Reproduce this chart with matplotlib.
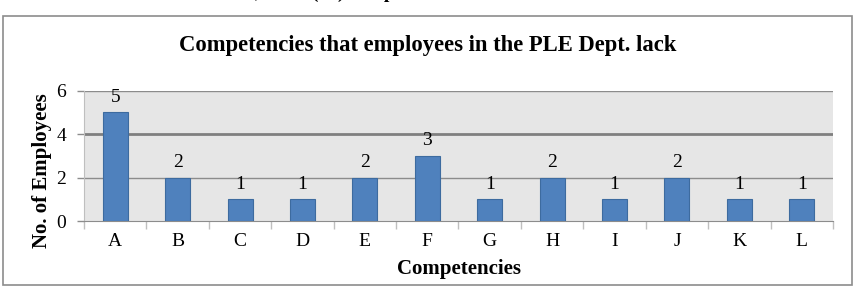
import matplotlib.pyplot as plt
from matplotlib.patches import Rectangle

# data
competencies = ["A", "B", "C", "D", "E", "F", "G", "H", "I", "J", "K", "L"]
employees = [5, 2, 1, 1, 2, 3, 1, 2, 1, 2, 1, 1]
yticks = [0, 2, 4, 6]

W, H = 856, 288
fig = plt.figure(figsize=(W / 100, H / 100), dpi=100)
plt.rcParams["font.family"] = ["Liberation Serif", "DejaVu Serif"]

# caption text cut off at the very top (only descenders show in the reference)
fig.text(255 / W, 1 + 2 / H, ", these (16) comp", fontsize=14, fontweight="bold",
         va="baseline", ha="left")

# chart area border
fig.add_artist(Rectangle((2.5 / W, 1 - 285 / H), 849.5 / W, 269 / H, transform=fig.transFigure,
                         fill=False, edgecolor="#8c8c8c", linewidth=1.2))

ax = fig.add_axes([84 / W, 1 - 221 / H, (833 - 84) / W, (221 - 90.7) / H])
ax.set_facecolor("#e6e6e6")

x = range(len(competencies))
ax.bar(x, employees, width=0.4, color="#4f81bd", edgecolor="#3d6b9f", linewidth=0.8, zorder=3)
for xi, v in zip(x, employees):
    ax.text(xi, v + 0.3, str(v), ha="center", va="bottom", fontsize=14)

ax.set_xlim(-0.5, len(competencies) - 0.5)
ax.set_ylim(0, 6)
ax.set_yticks(yticks)
ax.set_yticklabels([str(t) for t in yticks], fontsize=14)
ax.set_xticks(list(x))
ax.set_xticklabels(competencies, fontsize=14)
ax.set_xticks([i + 0.5 for i in range(-1, len(competencies))], minor=True)
ax.tick_params(axis="x", which="major", length=0, pad=9)
ax.tick_params(axis="x", which="minor", length=6, color="#bfbfbf", width=1)
ax.tick_params(axis="y", length=5, color="#8c8c8c", width=1, pad=8)

for t in [2, 6]:
    ax.axhline(t, color="#8c8c8c", linewidth=1, zorder=1)
ax.axhline(4, color="#7f7f7f", linewidth=2, zorder=1)

for side in ["top", "right"]:
    ax.spines[side].set_visible(False)
ax.spines["bottom"].set_color("#8c8c8c")
ax.spines["left"].set_color("#bfbfbf")

fig.text(0.5, 1 - 45 / H, "Competencies that employees in the PLE Dept. lack", fontsize=16.3,
         fontweight="bold", ha="center", va="center")
ax.set_ylabel("No. of Employees", fontsize=15, fontweight="bold")
ax.yaxis.set_label_coords(-32 / (833 - 84), 0.384)
ax.set_xlabel("Competencies", fontsize=15, fontweight="bold", labelpad=6)

fig.savefig("out.png", dpi=100)
